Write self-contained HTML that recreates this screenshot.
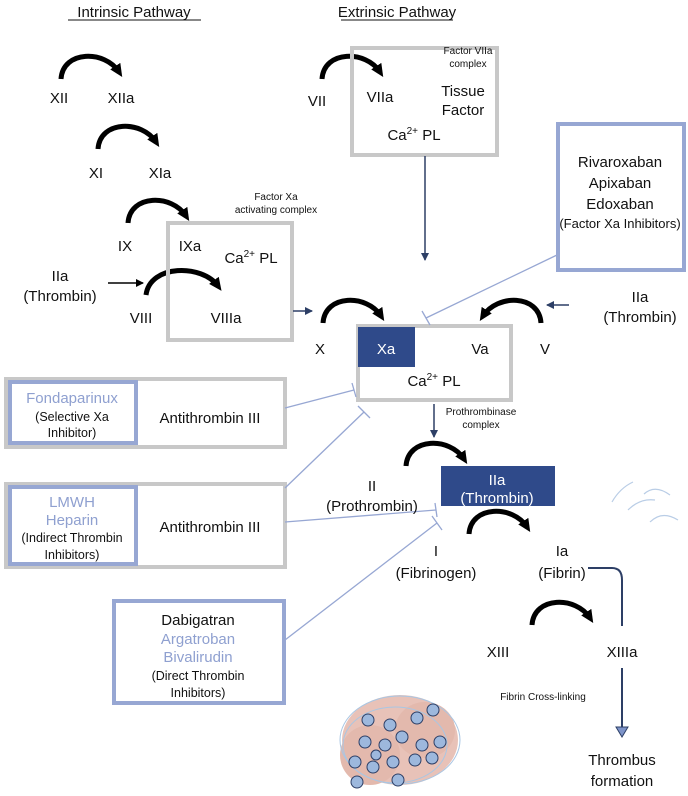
<!DOCTYPE html>
<html><head><meta charset="utf-8"><style>
html,body{margin:0;padding:0;background:#fff;}
svg{display:block;font-family:"Liberation Sans",sans-serif;}
</style></head><body>
<svg width="688" height="796" viewBox="0 0 688 796" xmlns="http://www.w3.org/2000/svg">
<defs>
<marker id="ah" markerWidth="8" markerHeight="8" refX="7" refY="4" orient="auto" markerUnits="userSpaceOnUse"><path d="M0,0 L8,4 L0,8 z" fill="#000"/></marker>
<marker id="an" markerWidth="8" markerHeight="8" refX="7" refY="4" orient="auto" markerUnits="userSpaceOnUse"><path d="M0,0 L8,4 L0,8 z" fill="#2d3f66"/></marker>
<marker id="big" markerWidth="14" markerHeight="14" refX="7" refY="7" orient="auto" markerUnits="userSpaceOnUse"><path d="M0,1 L13,7 L0,13 z" fill="#000"/></marker>
</defs>
<g font-size="15" fill="#111">
<text x="134" y="17" text-anchor="middle">Intrinsic Pathway</text>
<line x1="68" y1="20" x2="201" y2="20" stroke="#111" stroke-width="1"/>
<text x="397" y="17" text-anchor="middle">Extrinsic Pathway</text>
<line x1="341" y1="20" x2="453" y2="20" stroke="#111" stroke-width="1"/>
</g>
<g fill="none" stroke="#000" stroke-width="5" marker-end="url(#big)">
<path d="M61,79 C63,50 105,50 119,72"/>
<path d="M98,149 C100,120 142,120 156,142"/>
<path d="M128,223 C130,194 172,194 186,216"/>
<path d="M146,295 C150,264 202,264 218,286"/>
<path d="M322,79 C324,50 366,50 380,72"/>
<path d="M323,323 C325,294 367,294 381,316"/>
<path d="M541,323 C539,294 497,294 483,316"/>
<path d="M406,466 C408,437 450,437 464,459"/>
<path d="M469,534 C471,505 513,505 527,527"/>
<path d="M532,625 C534,596 576,596 590,618"/>
</g>
<rect x="168" y="223" width="124" height="117" fill="none" stroke="#c8c8c8" stroke-width="4"/>
<rect x="352" y="48" width="145" height="107" fill="none" stroke="#c8c8c8" stroke-width="4"/>
<rect x="358" y="326" width="153" height="74" fill="none" stroke="#c8c8c8" stroke-width="4"/>
<rect x="358" y="327" width="57" height="40" fill="#2f4a8a"/>
<rect x="558" y="124" width="126" height="146" fill="#fff" stroke="#97a7d3" stroke-width="4"/>
<rect x="6" y="379" width="279" height="68" fill="none" stroke="#c8c8c8" stroke-width="4"/>
<rect x="10" y="382" width="126" height="61" fill="none" stroke="#97a7d3" stroke-width="4"/>
<rect x="6" y="484" width="279" height="83" fill="none" stroke="#c8c8c8" stroke-width="4"/>
<rect x="10" y="487" width="126" height="77" fill="none" stroke="#97a7d3" stroke-width="4"/>
<rect x="114" y="601" width="170" height="102" fill="none" stroke="#97a7d3" stroke-width="4"/>
<rect x="441" y="466" width="114" height="40" fill="#2f4a8a"/>
<g stroke="#2d3f66" stroke-width="1.5" fill="none" marker-end="url(#an)">
<line x1="425" y1="156" x2="425" y2="260"/>
<line x1="293" y1="311" x2="312" y2="311"/>
<line x1="569" y1="305" x2="547" y2="305"/>
<line x1="434" y1="404" x2="434" y2="437"/>
</g>
<line x1="108" y1="283" x2="143" y2="283" stroke="#000" stroke-width="1.5" marker-end="url(#ah)"/>
<path d="M588,568 L612,568 Q622,568 622,580 L622,626" fill="none" stroke="#2d3f66" stroke-width="2"/>
<line x1="622" y1="668" x2="622" y2="727" stroke="#2d3f66" stroke-width="2"/>
<path d="M616,727 L628,727 L622,737 z" fill="#7e94c9" stroke="#2d3f66" stroke-width="1"/>
<g stroke="#97a7d3" stroke-width="1.3" fill="none">
<line x1="557" y1="255" x2="426" y2="318"/><line x1="422" y1="311" x2="430" y2="325"/>
<line x1="285" y1="408" x2="354" y2="390"/><line x1="352" y1="383" x2="356" y2="397"/>
<line x1="285" y1="488" x2="364" y2="412"/><line x1="358" y1="406" x2="370" y2="418"/>
<line x1="285" y1="522" x2="436" y2="510"/><line x1="435" y1="503" x2="437" y2="517"/>
<line x1="285" y1="640" x2="437" y2="523"/><line x1="432" y1="516" x2="442" y2="530"/>
</g>
<g font-size="15" fill="#111" text-anchor="middle">
<text x="59" y="103">XII</text><text x="121" y="103">XIIa</text>
<text x="96" y="178">XI</text><text x="160" y="178">XIa</text>
<text x="125" y="251">IX</text><text x="190" y="251">IXa</text>
<text x="251" y="263">Ca<tspan font-size="10" dy="-6">2+</tspan><tspan dy="6">  PL</tspan></text>
<text x="60" y="281">IIa</text><text x="60" y="301">(Thrombin)</text>
<text x="141" y="323">VIII</text><text x="226" y="323">VIIIa</text>
<text x="317" y="106">VII</text><text x="380" y="102">VIIa</text>
<text x="463" y="96">Tissue</text><text x="463" y="115">Factor</text>
<text x="414" y="140">Ca<tspan font-size="10" dy="-6">2+</tspan><tspan dy="6">  PL</tspan></text>
<text x="320" y="354">X</text><text x="386" y="354" fill="#fff">Xa</text>
<text x="480" y="354">Va</text><text x="545" y="354">V</text>
<text x="434" y="386">Ca<tspan font-size="10" dy="-6">2+</tspan><tspan dy="6">  PL</tspan></text>
<text x="640" y="302">IIa</text><text x="640" y="322">(Thrombin)</text>
<text x="620" y="167">Rivaroxaban</text><text x="620" y="188">Apixaban</text><text x="620" y="209">Edoxaban</text>
<text x="620" y="228" font-size="13">(Factor Xa Inhibitors)</text>
<text x="72" y="403" fill="#8fa0d0">Fondaparinux</text>
<text x="72" y="421" font-size="12.5">(Selective Xa</text><text x="72" y="437" font-size="12.5">Inhibitor)</text>
<text x="210" y="423">Antithrombin III</text>
<text x="72" y="507" fill="#8fa0d0">LMWH</text><text x="72" y="525" fill="#8fa0d0">Heparin</text>
<text x="72" y="542" font-size="12.5">(Indirect Thrombin</text><text x="72" y="559" font-size="12.5">Inhibitors)</text>
<text x="210" y="532">Antithrombin III</text>
<text x="198" y="625">Dabigatran</text><text x="198" y="644" fill="#8fa0d0">Argatroban</text><text x="198" y="662" fill="#8fa0d0">Bivalirudin</text>
<text x="198" y="680" font-size="12.5">(Direct Thrombin</text><text x="198" y="697" font-size="12.5">Inhibitors)</text>
<text x="372" y="491">II</text><text x="372" y="511">(Prothrombin)</text>
<text x="497" y="485" fill="#fff">IIa</text><text x="497" y="503" fill="#fff">(Thrombin)</text>
<text x="436" y="556">I</text><text x="436" y="578">(Fibrinogen)</text>
<text x="562" y="556">Ia</text><text x="562" y="578">(Fibrin)</text>
<text x="498" y="657">XIII</text><text x="622" y="657">XIIIa</text>
<text x="622" y="765">Thrombus</text><text x="622" y="786">formation</text>
</g>
<g font-size="10" fill="#111" text-anchor="middle">
<text x="468" y="54">Factor VIIa</text><text x="468" y="67">complex</text>
<text x="276" y="200">Factor Xa</text><text x="276" y="213">activating complex</text>
<text x="481" y="415">Prothrombinase</text><text x="481" y="428">complex</text>
<text x="543" y="700">Fibrin Cross-linking</text>
</g>
<g fill="none" stroke="#b9cde6" stroke-width="1.2">
<path d="M612,502 Q620,488 633,482"/><path d="M628,510 Q640,498 655,500"/>
<path d="M644,494 Q655,484 670,495"/><path d="M650,522 Q662,510 678,520"/>
</g>
<g>
<ellipse cx="400" cy="740" rx="58" ry="45" fill="#e8c2b8"/>
<ellipse cx="370" cy="755" rx="30" ry="30" fill="#e3b9ad"/>
<ellipse cx="425" cy="730" rx="30" ry="28" fill="#e3b9ad"/>
<g fill="none" stroke="#a9c6e3" stroke-width="1"><ellipse cx="400" cy="740" rx="60" ry="44"/><ellipse cx="395" cy="745" rx="52" ry="38"/></g>
<g fill="#9db8dd" stroke="#2d3f66" stroke-width="1">
<circle cx="368" cy="720" r="6"/><circle cx="390" cy="725" r="6"/><circle cx="417" cy="718" r="6"/><circle cx="433" cy="710" r="6"/>
<circle cx="365" cy="742" r="6"/><circle cx="385" cy="745" r="6"/><circle cx="402" cy="737" r="6"/><circle cx="422" cy="745" r="6"/><circle cx="440" cy="742" r="6"/>
<circle cx="355" cy="762" r="6"/><circle cx="373" cy="767" r="6"/><circle cx="393" cy="762" r="6"/><circle cx="415" cy="760" r="6"/><circle cx="432" cy="758" r="6"/>
<circle cx="357" cy="782" r="6"/><circle cx="398" cy="780" r="6"/><circle cx="376" cy="755" r="5"/>
</g>
</g>
</svg>
</body></html>
